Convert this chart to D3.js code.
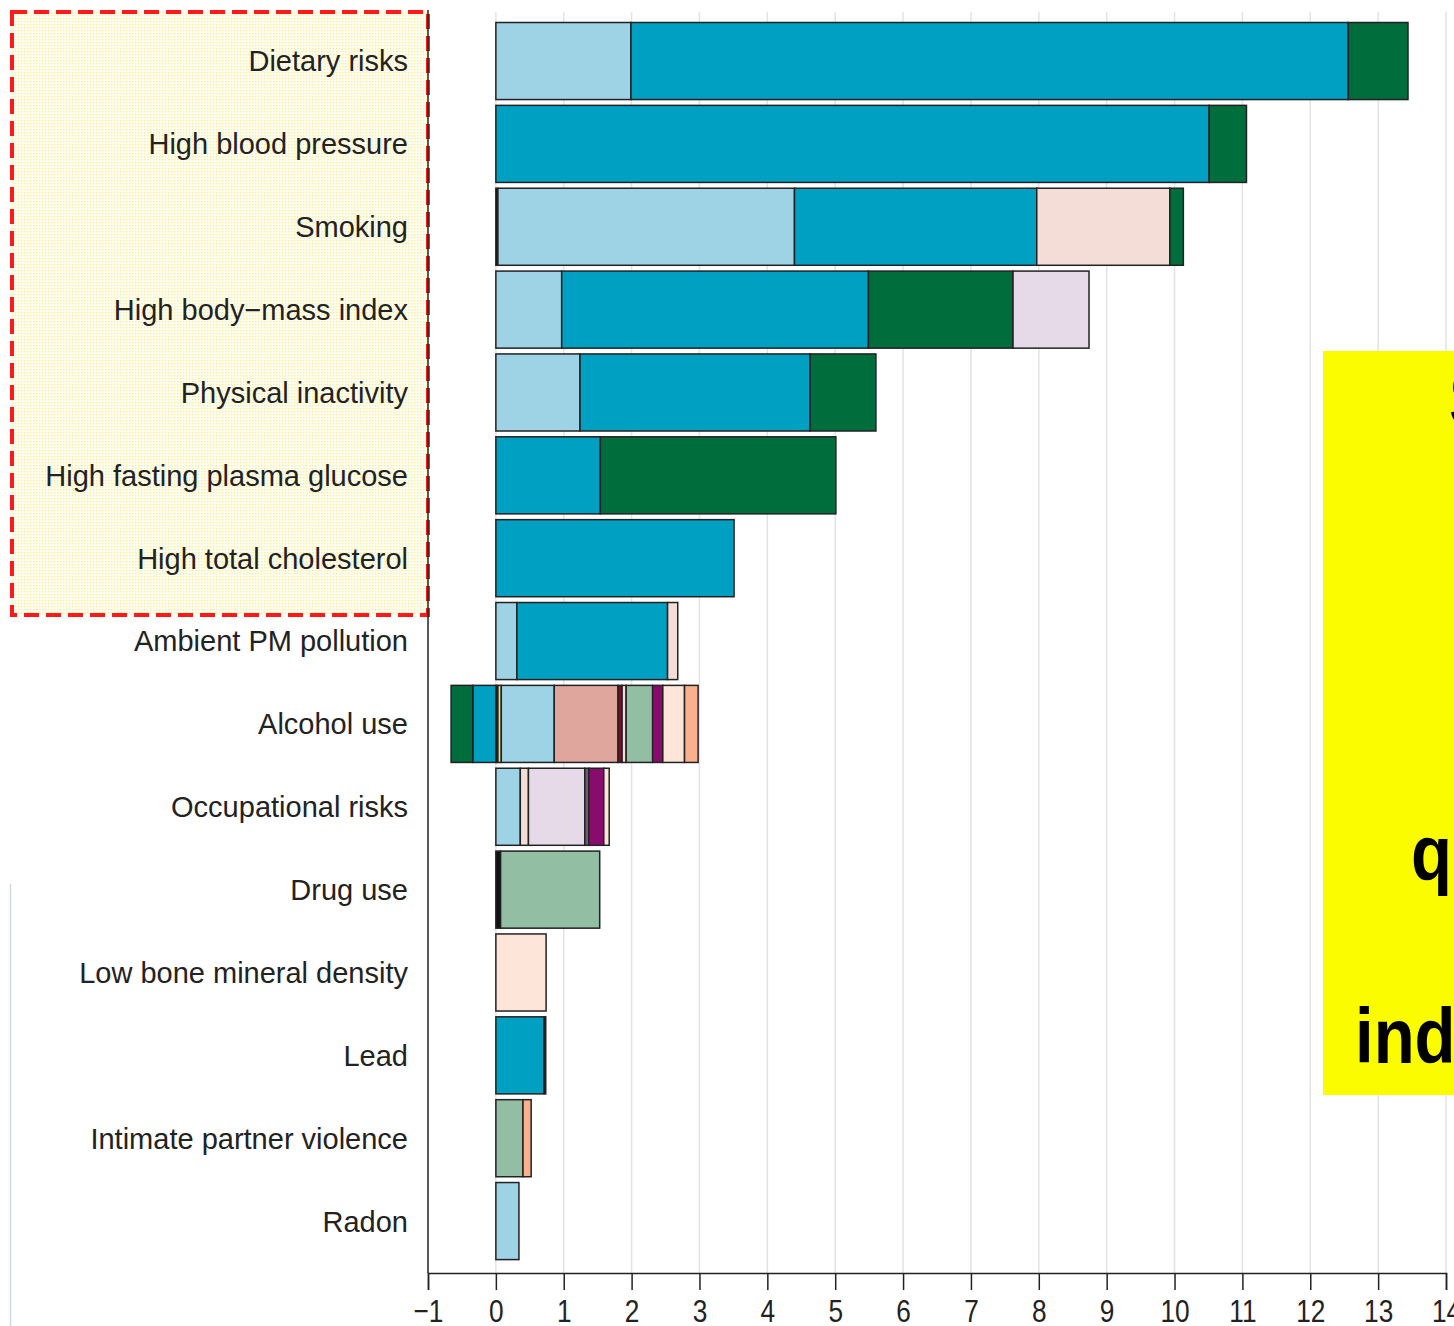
<!DOCTYPE html>
<html>
<head>
<meta charset="utf-8">
<script src="https://cdn.jsdelivr.net/npm/d3@7"></script>
<style>
  html, body { margin: 0; padding: 0; background: #fff; overflow: hidden; }
  svg { display: block; }
</style>
</head>
<body>
<svg id="chart" width="1454" height="1326"></svg>
<script>
// ---------------- DATA ----------------
const categories = [
  "Dietary risks", "High blood pressure", "Smoking", "High body\u2212mass index",
  "Physical inactivity", "High fasting plasma glucose", "High total cholesterol",
  "Ambient PM pollution", "Alcohol use", "Occupational risks", "Drug use",
  "Low bone mineral density", "Lead", "Intimate partner violence", "Radon"
];

// series values, one entry per category (same order as categories)
const seriesKeys = ["black", "yellow", "lightblue", "salmon", "maroon", "teal", "dark",
  "pink", "green", "sage", "lavender", "gray", "purple", "lightpeach", "peach"];

const black      = [0, 0, 0.03, 0, 0, 0, 0, 0, 0.03, 0, 0.07, 0, 0, 0, 0];
const yellow     = [0, 0, 0, 0, 0, 0, 0, 0, 0.05, 0, 0, 0, 0, 0, 0];
const lightblue  = [1.99, 0, 4.37, 0.97, 1.24, 0, 0, 0.31, 0.78, 0.36, 0, 0, 0, 0, 0.34];
const salmon     = [0, 0, 0, 0, 0, 0, 0, 0, 0.94, 0, 0, 0, 0, 0, 0];
const maroon     = [0, 0, 0, 0, 0, 0, 0, 0, 0.06, 0, 0, 0, 0, 0, 0];
const teal       = [10.57, 10.51, 3.57, 4.52, 3.39, 1.54, 3.51, 2.22, -0.34, 0, 0, 0, 0.71, 0, 0];
const dark       = [0, 0, 0, 0, 0, 0, 0, 0, 0, 0, 0, 0, 0.025, 0, 0];
const pink       = [0, 0, 1.96, 0, 0, 0, 0, 0.15, 0.06, 0.12, 0, 0, 0, 0, 0];
const green      = [0.88, 0.55, 0.2, 2.13, 0.97, 3.47, 0, 0, -0.32, 0, 0, 0, 0, 0, 0];
const sage       = [0, 0, 0, 0, 0, 0, 0, 0, 0.39, 0, 1.46, 0, 0, 0.40, 0];
const lavender   = [0, 0, 0, 1.12, 0, 0, 0, 0, 0, 0.83, 0, 0, 0, 0, 0];
const gray       = [0, 0, 0, 0, 0, 0, 0, 0, 0, 0.06, 0, 0, 0, 0, 0];
const purple     = [0, 0, 0, 0, 0, 0, 0, 0, 0.15, 0.22, 0, 0, 0, 0, 0];
const lightpeach = [0, 0, 0, 0, 0, 0, 0, 0, 0.32, 0.08, 0, 0.74, 0, 0, 0];
const peach      = [0, 0, 0, 0, 0, 0, 0, 0, 0.20, 0, 0, 0, 0, 0.12, 0];

const seriesColors = ["#111111", "#f2e07c", "#9dd3e5", "#dea69c", "#7b0d2c", "#00a0c3", "#1a1a1a",
  "#f4ddd6", "#006e3c", "#92bfa3", "#e6dae9", "#6e5c70", "#870c6d", "#fde5da", "#f8b08f"];

const tickValues = [-1, 0, 1, 2, 3, 4, 5, 6, 7, 8, 9, 10, 11, 12, 13, 14];

// callout text fragments (mostly outside the picture)
const calloutLines = ["S", "q", "ind"];

// ---------------- BUILD ----------------
const seriesArrays = {black, yellow, lightblue, salmon, maroon, teal, dark, pink, green,
  sage, lavender, gray, purple, lightpeach, peach};

const rows = categories.map((c, i) => {
  const r = {category: c};
  seriesKeys.forEach(k => { r[k] = seriesArrays[k][i]; });
  return r;
});

const svg = d3.select("#chart");
const W = 1454, H = 1326;

const x = d3.scaleLinear().domain([-1, 14]).range([428, 1446]);
const y = d3.scaleBand().domain(categories).range([19.6, 1262.5])
  .paddingInner(0.07).paddingOuter(0.035);
const color = d3.scaleOrdinal().domain(seriesKeys).range(seriesColors);

const plotTop = 12, axisY = 1273;

// pattern for highlighted label box
const defs = svg.append("defs");
const pat = defs.append("pattern").attr("id", "dots")
  .attr("width", 3).attr("height", 3).attr("patternUnits", "userSpaceOnUse");
pat.append("rect").attr("width", 3).attr("height", 3).attr("fill", "#fffef4");
pat.append("rect").attr("width", 1.4).attr("height", 1.4).attr("fill", "#f6f09c");

// faint left edge line
svg.append("line").attr("x1", 10.5).attr("x2", 10.5).attr("y1", 884).attr("y2", H)
  .attr("stroke", "#cfdcd4").attr("stroke-width", 1.5);

// highlight box behind top labels
svg.append("rect")
  .attr("x", 12).attr("y", 12).attr("width", 416).attr("height", 603)
  .attr("fill", "url(#dots)")
  .attr("stroke", "#ff1a1a").attr("stroke-width", 4)
  .attr("stroke-dasharray", "15 7");

// gridlines
svg.append("g").selectAll("line").data(tickValues.filter(d => d >= 0)).join("line")
  .attr("x1", d => x(d)).attr("x2", d => x(d))
  .attr("y1", plotTop).attr("y2", axisY)
  .attr("stroke", "#e3e3e3").attr("stroke-width", 1.5);

// stacked bars
const stack = d3.stack().keys(seriesKeys)
  .order(d3.stackOrderNone).offset(d3.stackOffsetDiverging);
const stacked = stack(rows);

svg.append("g").selectAll("g").data(stacked).join("g")
  .attr("fill", d => color(d.key))
  .selectAll("rect")
  .data(d => d.filter(s => Math.abs(s[1] - s[0]) > 1e-9))
  .join("rect")
  .attr("x", d => x(Math.min(d[0], d[1])))
  .attr("width", d => Math.abs(x(d[1]) - x(d[0])))
  .attr("y", d => y(d.data.category))
  .attr("height", y.bandwidth())
  .attr("stroke", "#222").attr("stroke-width", 1.5);

// left axis line
svg.append("line").attr("x1", 428).attr("x2", 428).attr("y1", 10).attr("y2", axisY)
  .attr("stroke", "#222").attr("stroke-width", 1.5);

// category labels
svg.append("g").selectAll("text").data(categories).join("text")
  .attr("x", 408)
  .attr("y", d => y(d) + y.bandwidth() / 2)
  .attr("dy", "0.36em")
  .attr("text-anchor", "end")
  .attr("font-family", "Liberation Sans, Arial, sans-serif")
  .attr("font-size", 29)
  .attr("fill", "#222")
  .text(d => d);

// bottom axis
const xAxis = d3.axisBottom(x).tickValues(tickValues).tickSize(17).tickPadding(6)
  .tickFormat(d3.format("d"));
const gx = svg.append("g").attr("transform", `translate(0,${axisY})`).call(xAxis);
gx.select(".domain").attr("stroke", "#222").attr("stroke-width", 1.5);
gx.selectAll(".tick line").attr("stroke", "#222").attr("stroke-width", 1.5);
gx.selectAll(".tick text")
  .attr("font-family", "Liberation Sans, Arial, sans-serif")
  .attr("font-size", 32)
  .attr("fill", "#222")
  .attr("y", 0)
  .attr("dy", 0)
  .attr("transform", "translate(0,49) scale(0.82,1)");

// yellow callout box (extends beyond the picture)
svg.append("rect").attr("x", 1323).attr("y", 351).attr("width", 300).attr("height", 744)
  .attr("fill", "#fcfc00");
const calloutX = [1449, 1411, 1355];
const calloutY = [426, 880, 1063];
svg.append("g").selectAll("text").data(calloutLines).join("text")
  .attr("transform", (d, i) => `translate(${calloutX[i]},${calloutY[i]}) scale(0.86,1)`)
  .attr("font-family", "Liberation Sans, Arial, sans-serif")
  .attr("font-weight", "bold")
  .attr("font-size", 78)
  .attr("fill", "#000")
  .text(d => d);
</script>
</body>
</html>
